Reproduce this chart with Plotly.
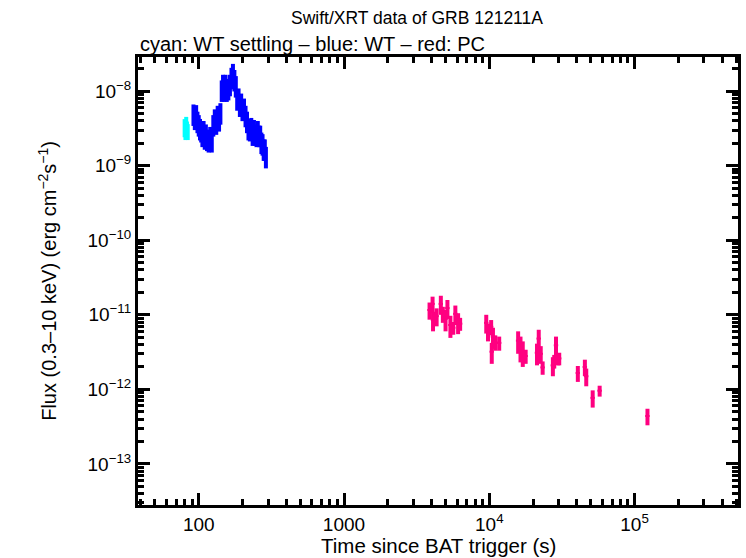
import plotly.graph_objects as go

# ---------------- data ----------------
# WT settling (cyan)
cyan_t = [80, 81, 82, 83, 84]
cyan_f = [3.3e-9, 3.0e-9, 3.6e-9, 3.1e-9, 2.9e-9]
cyan_ferr = [0.9e-9, 0.8e-9, 0.9e-9, 0.8e-9, 0.7e-9]
cyan_terr = [0.5, 0.5, 0.5, 0.5, 0.5]

# WT (blue)
wt_t = [92, 94, 96, 98, 100, 102, 104, 106, 108, 110, 112, 114, 117, 120, 123,
        126, 129, 132, 135, 138, 141, 144, 147, 150, 153, 156, 160, 164, 168,
        172, 176, 180, 184, 188, 192, 196, 200, 205, 210, 215, 220, 225, 230,
        235, 240, 245, 250, 255, 260, 265, 270, 275, 280, 285, 290]
wt_f = [5.0, 4.4, 4.9, 4.0, 3.6, 3.2, 3.0, 2.6, 3.0, 2.4, 2.7, 2.3, 2.2, 2.5, 2.2,
        3.6, 4.3, 3.8, 4.8, 4.2, 5.2, 10.5, 12.5, 10.5, 12.5, 10.5, 11.0, 12.5, 15.5,
        17.5, 14.5, 12.0, 8.0, 8.2, 6.6, 7.0, 5.8, 6.0, 4.8, 4.0, 3.2, 3.1, 3.3,
        2.7, 3.1, 2.7, 2.6, 3.0, 2.6, 2.6, 2.1, 2.0, 1.7, 1.7, 1.35]  # units of 1e-9
wt_rel_err = 0.32
wt_terr_rel = 0.012

# PC (red)
pc_t = [3880, 4070, 4100, 4340, 4640, 4790, 5000, 5150, 5400, 5650, 5840, 6100, 6300,
        9530, 9800, 10300, 10600, 10400, 11000, 11700,
        15800, 16400, 17000, 17800,
        21300, 21900, 22600, 23300,
        27400, 28000, 28800, 29700, 30300,
        40700, 45500, 46500, 51500, 57500, 122700]
pc_f = [1.16e-11, 1.4e-11, 8.5e-12, 9.6e-12, 1.4e-11, 1.03e-11, 8.8e-12, 1.23e-11, 7.3e-12, 6.7e-12, 1.03e-11, 8.0e-12, 7.6e-12,
        7.8e-12, 6.0e-12, 6.9e-12, 5.1e-12, 3.2e-12, 4.3e-12, 4.2e-12,
        4.5e-12, 3.7e-12, 3.2e-12, 2.8e-12,
        3.1e-12, 4.8e-12, 3.0e-12, 1.97e-12,
        2.1e-12, 2.4e-12, 3.9e-12, 2.5e-12, 2.6e-12,
        1.66e-12, 2.0e-12, 1.5e-12, 7.7e-13, 9.6e-13, 4.4e-13]
pc_ferr = [3.0e-12, 3.5e-12, 2.5e-12, 2.6e-12, 4.0e-12, 2.5e-12, 2.8e-12, 3.5e-12, 2.4e-12, 1.3e-12, 3.0e-12, 2.5e-12, 1.5e-12,
           2.2e-12, 1.6e-12, 1.6e-12, 1.6e-12, 1.0e-12, 1.0e-12, 0.9e-12,
           1.5e-12, 1.4e-12, 1.2e-12, 0.6e-12,
           1.0e-12, 1.5e-12, 0.8e-12, 0.4e-12,
           0.6e-12, 0.5e-12, 1.2e-12, 0.4e-12, 0.5e-12,
           0.4e-12, 0.5e-12, 0.4e-12, 2.0e-13, 1.6e-13, 1.1e-13]
pc_terr_rel = 0.035

x_tickvals = [100, 1000, 1e4, 1e5]
x_ticktext = ["100", "1000", "10<sup>4</sup>", "10<sup>5</sup>"]
y_tickvals = [1e-13, 1e-12, 1e-11, 1e-10, 1e-9, 1e-8]
y_ticktext = ["10<sup>\u221213</sup>", "10<sup>\u221212</sup>", "10<sup>\u221211</sup>",
              "10<sup>\u221210</sup>", "10<sup>\u22129</sup>", "10<sup>\u22128</sup>"]

# minor tick positions (2..9 within each decade)
x_minor = [m * 10 ** d for d in range(1, 6) for m in range(2, 10)]
y_minor = [m * 10.0 ** d for d in range(-14, -7) for m in range(2, 10)]

X_RANGE = [1.582, 5.712]
Y_RANGE = [-13.55, -7.544]

CYAN = "#00FFFF"
BLUE = "#0000FF"
RED = "#FF0080"
FONT = "Liberation Sans, Arial, Helvetica, sans-serif"

fig = go.Figure()


def add_series(t, f, ferr, terr, color):
    fig.add_trace(go.Scatter(
        x=t, y=f, mode="markers",
        marker=dict(size=2, color=color),
        error_y=dict(type="data", array=ferr, symmetric=True, thickness=4, width=0, color=color),
        error_x=dict(type="data", array=terr, symmetric=True, thickness=2, width=0, color=color),
        showlegend=False, hoverinfo="x+y",
    ))


add_series(cyan_t, cyan_f, cyan_ferr, cyan_terr, CYAN)
wt_flux = [v * 1e-9 for v in wt_f]
add_series(wt_t, wt_flux, [v * wt_rel_err for v in wt_flux],
           [v * wt_terr_rel for v in wt_t], BLUE)
add_series(pc_t, pc_f, pc_ferr, [v * pc_terr_rel for v in pc_t], RED)

# invisible trace for the minor-tick overlay axes
fig.add_trace(go.Scatter(x=[1000], y=[1e-10], xaxis="x2", yaxis="y2", mode="markers",
                         marker=dict(size=1, opacity=0), showlegend=False, hoverinfo="skip"))

fig.update_layout(
    width=746, height=558,
    margin=dict(l=138, r=5, t=57, b=53),
    paper_bgcolor="white", plot_bgcolor="white",
    showlegend=False,
    font=dict(family=FONT, color="black"),
    xaxis=dict(type="log", range=X_RANGE, showgrid=False, zeroline=False,
               showline=True, linecolor="black", linewidth=3, mirror="ticks",
               ticks="inside", ticklen=12, tickwidth=3, tickcolor="black",
               tickmode="array", tickvals=x_tickvals, ticktext=x_ticktext,
               tickfont=dict(family=FONT, size=19, color="black")),
    yaxis=dict(type="log", range=Y_RANGE, showgrid=False, zeroline=False,
               showline=True, linecolor="black", linewidth=3, mirror="ticks",
               ticks="inside", ticklen=12, tickwidth=3, tickcolor="black",
               tickmode="array", tickvals=y_tickvals, ticktext=y_ticktext,
               tickfont=dict(family=FONT, size=19, color="black")),
    xaxis2=dict(type="log", range=X_RANGE, overlaying="x", anchor="y2", side="bottom",
                showgrid=False, zeroline=False, showline=False, mirror="ticks",
                ticks="inside", ticklen=6, tickwidth=2.5, tickcolor="black",
                tickmode="array", tickvals=x_minor, showticklabels=False),
    yaxis2=dict(type="log", range=Y_RANGE, overlaying="y", anchor="x2", side="left",
                showgrid=False, zeroline=False, showline=False, mirror="ticks",
                ticks="inside", ticklen=6, tickwidth=2.5, tickcolor="black",
                tickmode="array", tickvals=y_minor, showticklabels=False),
    annotations=[
        dict(text="Swift/XRT data of GRB 121211A", xref="paper", yref="paper",
             x=0.252, y=1.087, xanchor="left", yanchor="middle", showarrow=False,
             font=dict(family=FONT, size=17.5)),
        dict(text="cyan: WT settling \u2013 blue: WT \u2013 red: PC", xref="paper", yref="paper",
             x=0.0, y=1.029, xanchor="left", yanchor="middle", showarrow=False,
             font=dict(family=FONT, size=20)),
        dict(text="Time since BAT trigger (s)", xref="paper", yref="paper",
             x=0.5, y=-0.09, xanchor="center", yanchor="middle", showarrow=False,
             font=dict(family=FONT, size=20.5)),
        dict(text="Flux (0.3\u201310 keV) (erg cm<sup>\u22122</sup>s<sup>\u22121</sup>)",
             xref="paper", yref="paper", x=-0.152, y=0.5, textangle=-90,
             xanchor="center", yanchor="middle", showarrow=False,
             font=dict(family=FONT, size=20)),
    ],
)

fig.write_html("out.html")
